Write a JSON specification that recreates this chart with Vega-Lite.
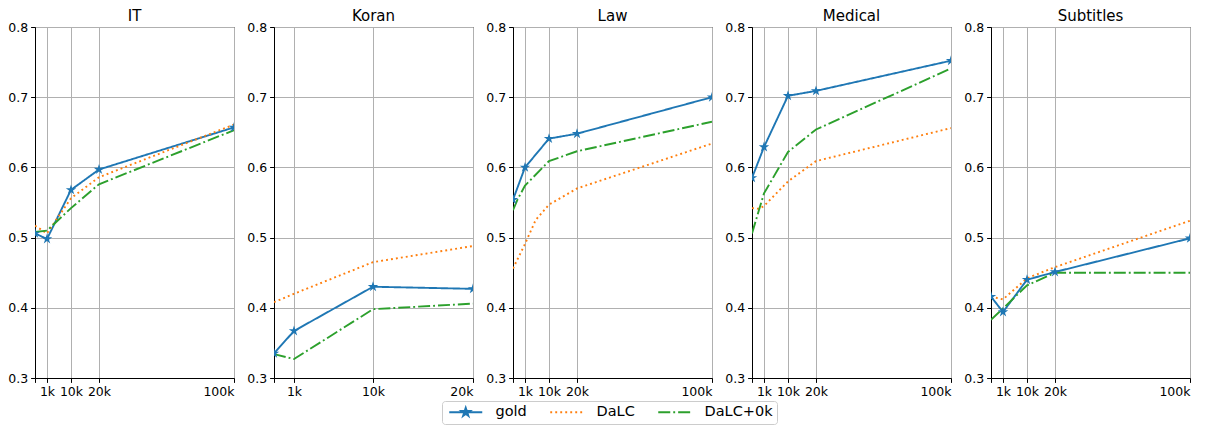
{
  "$schema": "https://vega.github.io/schema/vega-lite/v6.json",
  "padding": {"left": 7, "top": 8, "right": 5, "bottom": 2},
  "bounds": "flush",
  "spacing": 40,
  "config": {
    "font": "DejaVu Sans",
    "view": {"stroke": "black", "strokeWidth": 1},
    "axis": {"labelFont": "DejaVu Sans", "labelFontSize": 12.5, "labelColor": "black", "tickColor": "black", "tickSize": 4.4, "tickWidth": 1, "labelPadding": 3, "domainColor": "black", "domainWidth": 1, "gridColor": "#b0b0b0", "gridWidth": 1, "title": null},
    "title": {"font": "DejaVu Sans", "fontSize": 15, "fontWeight": "normal", "color": "black", "offset": -3},
    "legend": {"orient": "none", "legendX": 407, "legendY": 374, "direction": "horizontal", "gridAlign": "none", "labelFont": "DejaVu Sans", "labelFontSize": 14.5, "labelColor": "black", "symbolSize": 64, "symbolStrokeWidth": 1.9, "labelOffset": 35, "columnPadding": 19, "padding": 4, "strokeColor": "#cccccc", "cornerRadius": 3, "fillColor": "white", "symbolType": "stroke"}
  },
  "data": {"values": [
    {"domain": "IT", "series": "gold", "n": 0, "v": 0.506},
    {"domain": "IT", "series": "gold", "n": 1000, "v": 0.498},
    {"domain": "IT", "series": "gold", "n": 10000, "v": 0.568},
    {"domain": "IT", "series": "gold", "n": 20000, "v": 0.597},
    {"domain": "IT", "series": "gold", "n": 100000, "v": 0.657},
    {"domain": "IT", "series": "DaLC", "n": 0, "v": 0.517},
    {"domain": "IT", "series": "DaLC", "n": 1000, "v": 0.506},
    {"domain": "IT", "series": "DaLC", "n": 10000, "v": 0.556},
    {"domain": "IT", "series": "DaLC", "n": 20000, "v": 0.586},
    {"domain": "IT", "series": "DaLC", "n": 100000, "v": 0.661},
    {"domain": "IT", "series": "DaLC+0k", "n": 0, "v": 0.508},
    {"domain": "IT", "series": "DaLC+0k", "n": 1000, "v": 0.510},
    {"domain": "IT", "series": "DaLC+0k", "n": 10000, "v": 0.542},
    {"domain": "IT", "series": "DaLC+0k", "n": 20000, "v": 0.576},
    {"domain": "IT", "series": "DaLC+0k", "n": 100000, "v": 0.653},
    {"domain": "Koran", "series": "gold", "n": 0, "v": 0.335},
    {"domain": "Koran", "series": "gold", "n": 1000, "v": 0.367},
    {"domain": "Koran", "series": "gold", "n": 10000, "v": 0.430},
    {"domain": "Koran", "series": "gold", "n": 20000, "v": 0.427},
    {"domain": "Koran", "series": "DaLC", "n": 0, "v": 0.408},
    {"domain": "Koran", "series": "DaLC", "n": 1000, "v": 0.420},
    {"domain": "Koran", "series": "DaLC", "n": 10000, "v": 0.465},
    {"domain": "Koran", "series": "DaLC", "n": 20000, "v": 0.488},
    {"domain": "Koran", "series": "DaLC+0k", "n": 0, "v": 0.334},
    {"domain": "Koran", "series": "DaLC+0k", "n": 1000, "v": 0.327},
    {"domain": "Koran", "series": "DaLC+0k", "n": 10000, "v": 0.398},
    {"domain": "Koran", "series": "DaLC+0k", "n": 20000, "v": 0.406},
    {"domain": "Law", "series": "gold", "n": 0, "v": 0.554},
    {"domain": "Law", "series": "gold", "n": 1000, "v": 0.600},
    {"domain": "Law", "series": "gold", "n": 10000, "v": 0.641},
    {"domain": "Law", "series": "gold", "n": 20000, "v": 0.648},
    {"domain": "Law", "series": "gold", "n": 100000, "v": 0.700},
    {"domain": "Law", "series": "DaLC", "n": 0, "v": 0.456},
    {"domain": "Law", "series": "DaLC", "n": 1000, "v": 0.491},
    {"domain": "Law", "series": "DaLC", "n": 5000, "v": 0.525},
    {"domain": "Law", "series": "DaLC", "n": 10000, "v": 0.547},
    {"domain": "Law", "series": "DaLC", "n": 20000, "v": 0.570},
    {"domain": "Law", "series": "DaLC", "n": 100000, "v": 0.634},
    {"domain": "Law", "series": "DaLC+0k", "n": 0, "v": 0.539},
    {"domain": "Law", "series": "DaLC+0k", "n": 400, "v": 0.555},
    {"domain": "Law", "series": "DaLC+0k", "n": 1000, "v": 0.574},
    {"domain": "Law", "series": "DaLC+0k", "n": 10000, "v": 0.609},
    {"domain": "Law", "series": "DaLC+0k", "n": 20000, "v": 0.623},
    {"domain": "Law", "series": "DaLC+0k", "n": 100000, "v": 0.665},
    {"domain": "Medical", "series": "gold", "n": 0, "v": 0.585},
    {"domain": "Medical", "series": "gold", "n": 1000, "v": 0.629},
    {"domain": "Medical", "series": "gold", "n": 10000, "v": 0.702},
    {"domain": "Medical", "series": "gold", "n": 20000, "v": 0.709},
    {"domain": "Medical", "series": "gold", "n": 100000, "v": 0.752},
    {"domain": "Medical", "series": "DaLC", "n": 0, "v": 0.542},
    {"domain": "Medical", "series": "DaLC", "n": 600, "v": 0.541},
    {"domain": "Medical", "series": "DaLC", "n": 1000, "v": 0.545},
    {"domain": "Medical", "series": "DaLC", "n": 10000, "v": 0.580},
    {"domain": "Medical", "series": "DaLC", "n": 20000, "v": 0.609},
    {"domain": "Medical", "series": "DaLC", "n": 100000, "v": 0.656},
    {"domain": "Medical", "series": "DaLC+0k", "n": 0, "v": 0.506},
    {"domain": "Medical", "series": "DaLC+0k", "n": 1000, "v": 0.563},
    {"domain": "Medical", "series": "DaLC+0k", "n": 10000, "v": 0.622},
    {"domain": "Medical", "series": "DaLC+0k", "n": 20000, "v": 0.654},
    {"domain": "Medical", "series": "DaLC+0k", "n": 100000, "v": 0.741},
    {"domain": "Subtitles", "series": "gold", "n": 0, "v": 0.416},
    {"domain": "Subtitles", "series": "gold", "n": 1000, "v": 0.394},
    {"domain": "Subtitles", "series": "gold", "n": 10000, "v": 0.440},
    {"domain": "Subtitles", "series": "gold", "n": 20000, "v": 0.451},
    {"domain": "Subtitles", "series": "gold", "n": 100000, "v": 0.499},
    {"domain": "Subtitles", "series": "DaLC", "n": 0, "v": 0.416},
    {"domain": "Subtitles", "series": "DaLC", "n": 1000, "v": 0.412},
    {"domain": "Subtitles", "series": "DaLC", "n": 10000, "v": 0.442},
    {"domain": "Subtitles", "series": "DaLC", "n": 20000, "v": 0.458},
    {"domain": "Subtitles", "series": "DaLC", "n": 100000, "v": 0.524},
    {"domain": "Subtitles", "series": "DaLC+0k", "n": 0, "v": 0.383},
    {"domain": "Subtitles", "series": "DaLC+0k", "n": 1000, "v": 0.399},
    {"domain": "Subtitles", "series": "DaLC+0k", "n": 10000, "v": 0.432},
    {"domain": "Subtitles", "series": "DaLC+0k", "n": 20000, "v": 0.450},
    {"domain": "Subtitles", "series": "DaLC+0k", "n": 100000, "v": 0.450}
  ]},
  "hconcat": [
    {
      "title": "IT", "width": 199, "height": 351,
      "transform": [{"filter": "datum.domain === 'IT'"}],
      "encoding": {
        "x": {"field": "n", "type": "quantitative", "scale": {"domain": [0, 1000, 10000, 20000, 100000], "range": [0, 12, 36, 64, 199]}, "axis": {"values": [0, 1000, 10000, 20000, 100000], "labelExpr": "datum.value === 0 ? '' : (datum.value / 1000) + 'k'", "grid": true}},
        "y": {"field": "v", "type": "quantitative", "scale": {"domain": [0.3, 0.8], "nice": false, "zero": false}, "axis": {"values": [0.3, 0.4, 0.5, 0.6, 0.7, 0.8], "format": ".1f", "grid": true}}
      },
      "layer": [
        {"mark": {"type": "line", "strokeWidth": 1.9, "clip": true},
         "encoding": {
           "color": {"field": "series", "type": "nominal", "scale": {"domain": ["gold", "DaLC", "DaLC+0k"], "range": ["#1f77b4", "#ff7f0e", "#2ca02c"]}, "legend": {"title": null, "encode": {"symbols": {"update": {"shape": {"signal": "datum.value === 'gold' ? 'M-1,0L7.25,0M3.125,-1.125L3.378,-0.348L4.195,-0.348L3.533,0.133L3.787,0.91L3.125,0.43L2.463,0.91L2.717,0.133L2.055,-0.348L2.872,-0.348Z' : 'M-1,0L7.25,0'"}, "fill": {"signal": "datum.value === 'gold' ? '#1f77b4' : 'transparent'"}}}}}},
           "strokeDash": {"field": "series", "type": "nominal", "scale": {"domain": ["gold", "DaLC", "DaLC+0k"], "range": [[1, 0], [1.9, 3.1], [12, 3, 1.9, 3]]}, "legend": {"title": null}}
         }},
        {"transform": [{"filter": "datum.series === 'gold'"}],
         "mark": {"type": "point", "shape": "M0,-1L0.2245,-0.309L0.951,-0.309L0.363,0.118L0.588,0.809L0,0.382L-0.588,0.809L-0.363,0.118L-0.951,-0.309L-0.2245,-0.309Z", "size": 120, "filled": true, "opacity": 1, "color": "#1f77b4", "clip": true}}
      ]
    },
    {
      "title": "Koran", "width": 199, "height": 351,
      "transform": [{"filter": "datum.domain === 'Koran'"}],
      "encoding": {
        "x": {"field": "n", "type": "quantitative", "scale": {"domain": [0, 1000, 10000, 20000], "range": [0, 20, 99, 199]}, "axis": {"values": [0, 1000, 10000, 20000], "labelExpr": "datum.value === 0 ? '' : (datum.value / 1000) + 'k'", "grid": true}},
        "y": {"field": "v", "type": "quantitative", "scale": {"domain": [0.3, 0.8], "nice": false, "zero": false}, "axis": {"values": [0.3, 0.4, 0.5, 0.6, 0.7, 0.8], "format": ".1f", "grid": true}}
      },
      "layer": [
        {"mark": {"type": "line", "strokeWidth": 1.9, "clip": true},
         "encoding": {
           "color": {"field": "series", "type": "nominal", "scale": {"domain": ["gold", "DaLC", "DaLC+0k"], "range": ["#1f77b4", "#ff7f0e", "#2ca02c"]}, "legend": {"title": null, "encode": {"symbols": {"update": {"shape": {"signal": "datum.value === 'gold' ? 'M-1,0L7.25,0M3.125,-1.125L3.378,-0.348L4.195,-0.348L3.533,0.133L3.787,0.91L3.125,0.43L2.463,0.91L2.717,0.133L2.055,-0.348L2.872,-0.348Z' : 'M-1,0L7.25,0'"}, "fill": {"signal": "datum.value === 'gold' ? '#1f77b4' : 'transparent'"}}}}}},
           "strokeDash": {"field": "series", "type": "nominal", "scale": {"domain": ["gold", "DaLC", "DaLC+0k"], "range": [[1, 0], [1.9, 3.1], [12, 3, 1.9, 3]]}, "legend": {"title": null}}
         }},
        {"transform": [{"filter": "datum.series === 'gold'"}],
         "mark": {"type": "point", "shape": "M0,-1L0.2245,-0.309L0.951,-0.309L0.363,0.118L0.588,0.809L0,0.382L-0.588,0.809L-0.363,0.118L-0.951,-0.309L-0.2245,-0.309Z", "size": 120, "filled": true, "opacity": 1, "color": "#1f77b4", "clip": true}}
      ]
    },
    {
      "title": "Law", "width": 199, "height": 351,
      "transform": [{"filter": "datum.domain === 'Law'"}],
      "encoding": {
        "x": {"field": "n", "type": "quantitative", "scale": {"domain": [0, 1000, 10000, 20000, 100000], "range": [0, 12, 36, 64, 199]}, "axis": {"values": [0, 1000, 10000, 20000, 100000], "labelExpr": "datum.value === 0 ? '' : (datum.value / 1000) + 'k'", "grid": true}},
        "y": {"field": "v", "type": "quantitative", "scale": {"domain": [0.3, 0.8], "nice": false, "zero": false}, "axis": {"values": [0.3, 0.4, 0.5, 0.6, 0.7, 0.8], "format": ".1f", "grid": true}}
      },
      "layer": [
        {"mark": {"type": "line", "strokeWidth": 1.9, "clip": true},
         "encoding": {
           "color": {"field": "series", "type": "nominal", "scale": {"domain": ["gold", "DaLC", "DaLC+0k"], "range": ["#1f77b4", "#ff7f0e", "#2ca02c"]}, "legend": {"title": null, "encode": {"symbols": {"update": {"shape": {"signal": "datum.value === 'gold' ? 'M-1,0L7.25,0M3.125,-1.125L3.378,-0.348L4.195,-0.348L3.533,0.133L3.787,0.91L3.125,0.43L2.463,0.91L2.717,0.133L2.055,-0.348L2.872,-0.348Z' : 'M-1,0L7.25,0'"}, "fill": {"signal": "datum.value === 'gold' ? '#1f77b4' : 'transparent'"}}}}}},
           "strokeDash": {"field": "series", "type": "nominal", "scale": {"domain": ["gold", "DaLC", "DaLC+0k"], "range": [[1, 0], [1.9, 3.1], [12, 3, 1.9, 3]]}, "legend": {"title": null}}
         }},
        {"transform": [{"filter": "datum.series === 'gold'"}],
         "mark": {"type": "point", "shape": "M0,-1L0.2245,-0.309L0.951,-0.309L0.363,0.118L0.588,0.809L0,0.382L-0.588,0.809L-0.363,0.118L-0.951,-0.309L-0.2245,-0.309Z", "size": 120, "filled": true, "opacity": 1, "color": "#1f77b4", "clip": true}}
      ]
    },
    {
      "title": "Medical", "width": 199, "height": 351,
      "transform": [{"filter": "datum.domain === 'Medical'"}],
      "encoding": {
        "x": {"field": "n", "type": "quantitative", "scale": {"domain": [0, 1000, 10000, 20000, 100000], "range": [0, 12, 36, 64, 199]}, "axis": {"values": [0, 1000, 10000, 20000, 100000], "labelExpr": "datum.value === 0 ? '' : (datum.value / 1000) + 'k'", "grid": true}},
        "y": {"field": "v", "type": "quantitative", "scale": {"domain": [0.3, 0.8], "nice": false, "zero": false}, "axis": {"values": [0.3, 0.4, 0.5, 0.6, 0.7, 0.8], "format": ".1f", "grid": true}}
      },
      "layer": [
        {"mark": {"type": "line", "strokeWidth": 1.9, "clip": true},
         "encoding": {
           "color": {"field": "series", "type": "nominal", "scale": {"domain": ["gold", "DaLC", "DaLC+0k"], "range": ["#1f77b4", "#ff7f0e", "#2ca02c"]}, "legend": {"title": null, "encode": {"symbols": {"update": {"shape": {"signal": "datum.value === 'gold' ? 'M-1,0L7.25,0M3.125,-1.125L3.378,-0.348L4.195,-0.348L3.533,0.133L3.787,0.91L3.125,0.43L2.463,0.91L2.717,0.133L2.055,-0.348L2.872,-0.348Z' : 'M-1,0L7.25,0'"}, "fill": {"signal": "datum.value === 'gold' ? '#1f77b4' : 'transparent'"}}}}}},
           "strokeDash": {"field": "series", "type": "nominal", "scale": {"domain": ["gold", "DaLC", "DaLC+0k"], "range": [[1, 0], [1.9, 3.1], [12, 3, 1.9, 3]]}, "legend": {"title": null}}
         }},
        {"transform": [{"filter": "datum.series === 'gold'"}],
         "mark": {"type": "point", "shape": "M0,-1L0.2245,-0.309L0.951,-0.309L0.363,0.118L0.588,0.809L0,0.382L-0.588,0.809L-0.363,0.118L-0.951,-0.309L-0.2245,-0.309Z", "size": 120, "filled": true, "opacity": 1, "color": "#1f77b4", "clip": true}}
      ]
    },
    {
      "title": "Subtitles", "width": 199, "height": 351,
      "transform": [{"filter": "datum.domain === 'Subtitles'"}],
      "encoding": {
        "x": {"field": "n", "type": "quantitative", "scale": {"domain": [0, 1000, 10000, 20000, 100000], "range": [0, 12, 36, 64, 199]}, "axis": {"values": [0, 1000, 10000, 20000, 100000], "labelExpr": "datum.value === 0 ? '' : (datum.value / 1000) + 'k'", "grid": true}},
        "y": {"field": "v", "type": "quantitative", "scale": {"domain": [0.3, 0.8], "nice": false, "zero": false}, "axis": {"values": [0.3, 0.4, 0.5, 0.6, 0.7, 0.8], "format": ".1f", "grid": true}}
      },
      "layer": [
        {"mark": {"type": "line", "strokeWidth": 1.9, "clip": true},
         "encoding": {
           "color": {"field": "series", "type": "nominal", "scale": {"domain": ["gold", "DaLC", "DaLC+0k"], "range": ["#1f77b4", "#ff7f0e", "#2ca02c"]}, "legend": {"title": null, "encode": {"symbols": {"update": {"shape": {"signal": "datum.value === 'gold' ? 'M-1,0L7.25,0M3.125,-1.125L3.378,-0.348L4.195,-0.348L3.533,0.133L3.787,0.91L3.125,0.43L2.463,0.91L2.717,0.133L2.055,-0.348L2.872,-0.348Z' : 'M-1,0L7.25,0'"}, "fill": {"signal": "datum.value === 'gold' ? '#1f77b4' : 'transparent'"}}}}}},
           "strokeDash": {"field": "series", "type": "nominal", "scale": {"domain": ["gold", "DaLC", "DaLC+0k"], "range": [[1, 0], [1.9, 3.1], [12, 3, 1.9, 3]]}, "legend": {"title": null}}
         }},
        {"transform": [{"filter": "datum.series === 'gold'"}],
         "mark": {"type": "point", "shape": "M0,-1L0.2245,-0.309L0.951,-0.309L0.363,0.118L0.588,0.809L0,0.382L-0.588,0.809L-0.363,0.118L-0.951,-0.309L-0.2245,-0.309Z", "size": 120, "filled": true, "opacity": 1, "color": "#1f77b4", "clip": true}}
      ]
    }
  ],
  "resolve": {"scale": {"x": "independent", "y": "independent"}}
}
